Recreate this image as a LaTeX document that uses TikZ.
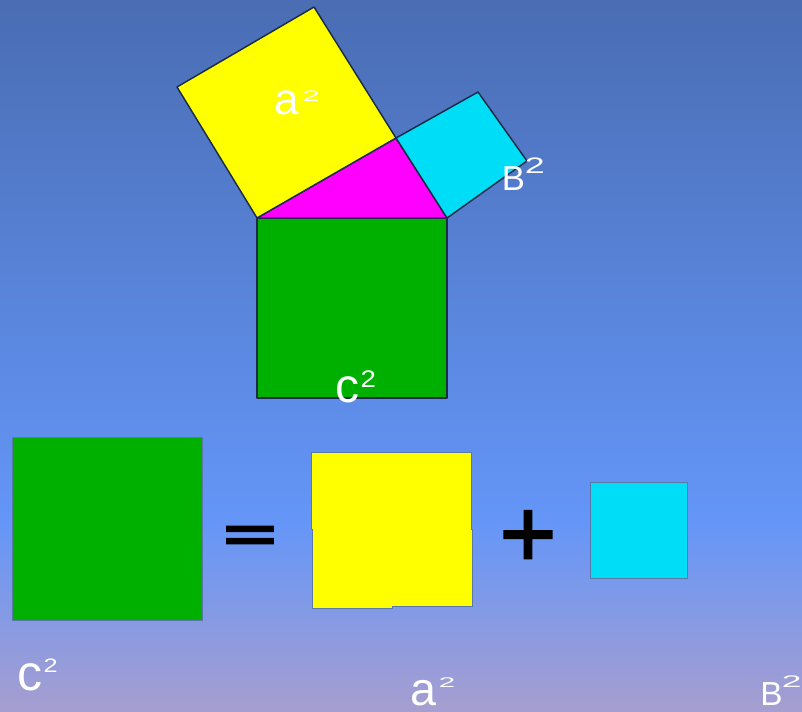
\documentclass[tikz,border=0pt]{standalone}
\usepackage{graphicx}
\usepackage{fontspec}
\setmainfont{Liberation Sans}
\newfontfamily\signfont[FakeBold=2]{Liberation Sans}
\newfontfamily\eqfont[FakeBold=6]{Liberation Sans}

\definecolor{bgtop}{HTML}{4A6DB3}
\definecolor{bgmid}{HTML}{6496F8}
\definecolor{bgbot}{HTML}{A69ED0}
\definecolor{sqgreen}{HTML}{00B000}
\definecolor{sqyellow}{HTML}{FFFF00}
\definecolor{sqcyan}{HTML}{00DDF6}
\definecolor{trimag}{HTML}{FF00FF}
\definecolor{edgedark}{HTML}{1C2C48}
\definecolor{edgesoft}{HTML}{5A78A8}

% superscript two: kern, raise, size (pt), xscale
\newcommand\sqtwo[4]{\kern#1pt\raisebox{#2pt}{\scalebox{#4}[1]{\fontsize{#3}{#3}\selectfont 2}}}

\tikzset{
  edge/.style={draw=edgedark,line width=1.1pt,line join=round},
  flat/.style={draw=edgesoft,line width=0.6pt},
  lbl/.style={text=white,inner sep=0pt,anchor=base west,text depth=0pt},
  sign/.style={text=black,inner sep=0pt,anchor=base,text depth=0pt,font=\signfont\fontsize{73}{75}\selectfont}
}

\begin{document}
\begin{tikzpicture}[x=0.75pt,y=-0.75pt]
\useasboundingbox (0,0) rectangle (802,711);
% background
\shade[top color=bgtop,bottom color=bgmid] (0,0) rectangle (802,521);
\shade[top color=bgmid,bottom color=bgbot] (0,520) rectangle (802,711);

% the figure
\filldraw[edge,fill=sqgreen] (257,218) rectangle (447,398);
\filldraw[edge,fill=trimag] (257,218) -- (396,138) -- (447,218) -- cycle;
\filldraw[edge,fill=sqyellow] (257,218) -- (396,138) -- (314,7) -- (177,87) -- cycle;
\filldraw[edge,fill=sqcyan] (396,138) -- (478,92) -- (527,161) -- (447,218) -- cycle;

\node[lbl,font=\fontsize{33}{35}\selectfont] (ta) at (274,114) {a\sqtwo{3}{9.5}{11.5}{2}};
\node[lbl,font=\fontsize{26}{28}\selectfont] (tb) at (501.5,190) {B\sqtwo{0}{12.75}{16.8}{1.6}};
\node[lbl,font=\fontsize{36}{38}\selectfont] (tc) at (335,402) {c\sqtwo{1}{11.25}{18}{1.15}};

% the sum
\filldraw[flat,fill=sqgreen] (12,437) rectangle (202,620);
\filldraw[flat,fill=sqyellow] (311,452) -- (471,452) -- (471,529) -- (472,529) -- (472,606)
  -- (392,606) -- (392,608) -- (312,608) -- (312,529) -- (311,529) -- cycle;
\filldraw[flat,fill=sqcyan] (590,482) rectangle (687,578);

\node[sign,font=\eqfont\fontsize{73}{75}\selectfont] (eq) at (250,551) {\scalebox{0.9}[0.5]{=}};
\node[sign] (pl) at (528,567) {+};

\node[lbl,font=\fontsize{37.5}{39}\selectfont] (bc) at (17,690) {c\sqtwo{1}{13.5}{14.6}{1.3}};
\node[lbl,font=\fontsize{35}{37}\selectfont] (ba) at (410,705) {a\sqtwo{2}{13.5}{10.5}{2.1}};
\node[lbl,font=\fontsize{25}{27}\selectfont] (bb) at (760,705) {B\sqtwo{-0.5}{13.5}{12.6}{2.1}};
\end{tikzpicture}
\end{document}
